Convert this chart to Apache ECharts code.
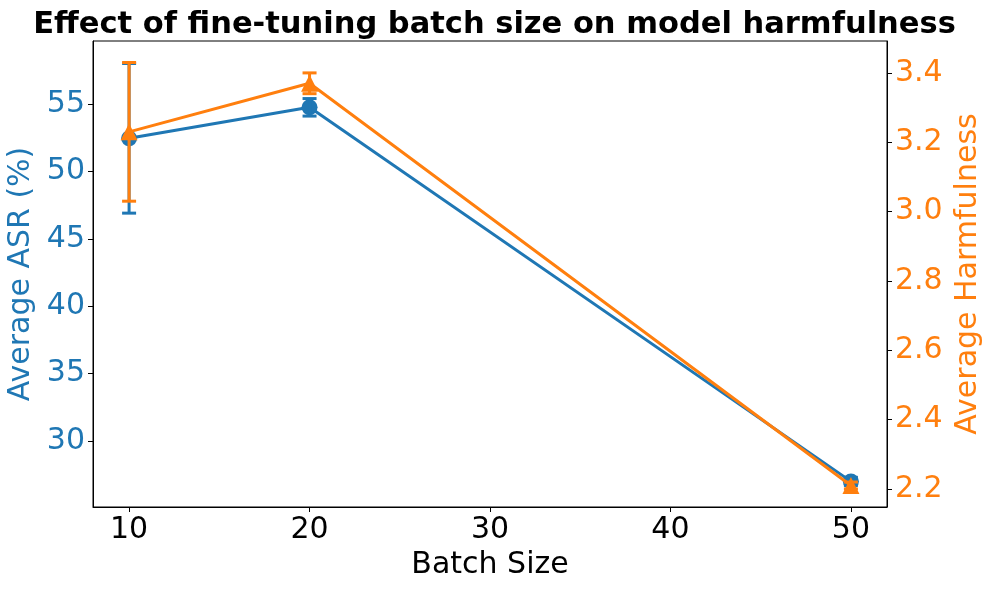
<!DOCTYPE html>
<html>
<head>
<meta charset="utf-8">
<script src="https://cdn.jsdelivr.net/npm/echarts@6/dist/echarts.min.js"></script>
<style>html,body{margin:0;padding:0;background:#fff;}#c{width:989px;height:590px;}</style>
</head>
<body>
<div id="c"></div>
<script>
var batchSizes = [10, 20, 50];
var asrMean = [52.45, 54.75, 27.0];
var asrErr = [5.55, 0.65, 0.3];
var harmMean = [3.23, 3.37, 2.21];
var harmErr = [0.20, 0.03, 0.01];
var xTicks = [10, 20, 30, 40, 50];
var asrTicks = [30, 35, 40, 45, 50, 55];
var harmTicks = [2.2, 2.4, 2.6, 2.8, 3.0, 3.2, 3.4];

var BLUE = '#1f77b4', ORANGE = '#ff7f0e';
var FONT = 'DejaVu Sans';

function pts(xs, ys) { return xs.map(function (x, i) { return [x, ys[i]]; }); }
function errData(xs, ys, es) { return xs.map(function (x, i) { return [x, ys[i] - es[i], ys[i] + es[i]]; }); }
function errRender(color) {
  return function (params, api) {
    var lo = api.coord([api.value(0), api.value(1)]);
    var hi = api.coord([api.value(0), api.value(2)]);
    var w = 7;
    var st = { stroke: color, lineWidth: 3 };
    return {
      type: 'group',
      children: [
        { type: 'line', shape: { x1: lo[0], y1: lo[1], x2: hi[0], y2: hi[1] }, style: st },
        { type: 'line', shape: { x1: lo[0] - w, y1: lo[1], x2: lo[0] + w, y2: lo[1] }, style: st },
        { type: 'line', shape: { x1: hi[0] - w, y1: hi[1], x2: hi[0] + w, y2: hi[1] }, style: st }
      ]
    };
  };
}

var chart = echarts.init(document.getElementById('c'), null, { renderer: 'canvas' });
chart.setOption({
  animation: false,
  backgroundColor: '#fff',
  textStyle: { fontFamily: FONT },
  title: {
    text: 'Effect of fine-tuning batch size on model harmfulness',
    left: 'center', top: 5,
    textStyle: { fontFamily: FONT, fontWeight: 'bold', fontSize: 30.5, color: '#000' }
  },
  grid: { left: 93, right: 102, top: 41, bottom: 83, show: true, borderColor: '#000', borderWidth: 1,
    backgroundColor: 'transparent', outerBoundsMode: 'none', containLabel: false },
  xAxis: {
    type: 'value', min: 8, max: 52,
    name: 'Batch Size', nameLocation: 'middle', nameGap: 42,
    nameTextStyle: { fontFamily: FONT, fontSize: 30, color: '#000' },
    axisLine: { show: true, lineStyle: { color: '#000', width: 1 } },
    axisTick: { show: true, length: 5, customValues: xTicks, lineStyle: { color: '#000' } },
    axisLabel: { customValues: xTicks, fontFamily: FONT, fontSize: 30, color: '#000', margin: 8 },
    splitLine: { show: false }
  },
  yAxis: [
    {
      type: 'value', min: 25.1, max: 59.67, position: 'left',
      name: 'Average ASR (%)', nameLocation: 'middle', nameGap: 56,
      nameTextStyle: { fontFamily: FONT, fontSize: 30, color: BLUE },
      axisLine: { show: true, lineStyle: { color: '#000', width: 1 } },
      axisTick: { show: true, length: 5, customValues: asrTicks, lineStyle: { color: '#000' } },
      axisLabel: { customValues: asrTicks, fontFamily: FONT, fontSize: 30, color: BLUE, margin: 8 },
      splitLine: { show: false }
    },
    {
      type: 'value', min: 2.148, max: 3.492, position: 'right',
      name: 'Average Harmfulness', nameLocation: 'middle', nameGap: 62, nameRotate: 90,
      nameTextStyle: { fontFamily: FONT, fontSize: 30, color: ORANGE },
      axisLine: { show: true, lineStyle: { color: '#000', width: 1 } },
      axisTick: { show: true, length: 5, customValues: harmTicks, lineStyle: { color: '#000' } },
      axisLabel: { customValues: harmTicks, fontFamily: FONT, fontSize: 30, color: ORANGE, margin: 8,
        formatter: function (v) { return v.toFixed(1); } },
      splitLine: { show: false }
    }
  ],
  series: [
    {
      type: 'line', yAxisIndex: 0, data: pts(batchSizes, asrMean), z: 2,
      lineStyle: { color: BLUE, width: 3 }, itemStyle: { color: BLUE },
      symbol: 'circle', symbolSize: 16, showAllSymbol: true
    },
    {
      type: 'custom', yAxisIndex: 0, data: errData(batchSizes, asrMean, asrErr), z: 3,
      renderItem: errRender(BLUE), encode: { x: 0, y: [1, 2] }
    },
    {
      type: 'line', yAxisIndex: 1, data: pts(batchSizes, harmMean), z: 4,
      lineStyle: { color: ORANGE, width: 3 }, itemStyle: { color: ORANGE },
      symbol: 'triangle', symbolSize: 17, showAllSymbol: true
    },
    {
      type: 'custom', yAxisIndex: 1, data: errData(batchSizes, harmMean, harmErr), z: 5,
      renderItem: errRender(ORANGE), encode: { x: 0, y: [1, 2] }
    }
  ]
});
</script>
</body>
</html>
